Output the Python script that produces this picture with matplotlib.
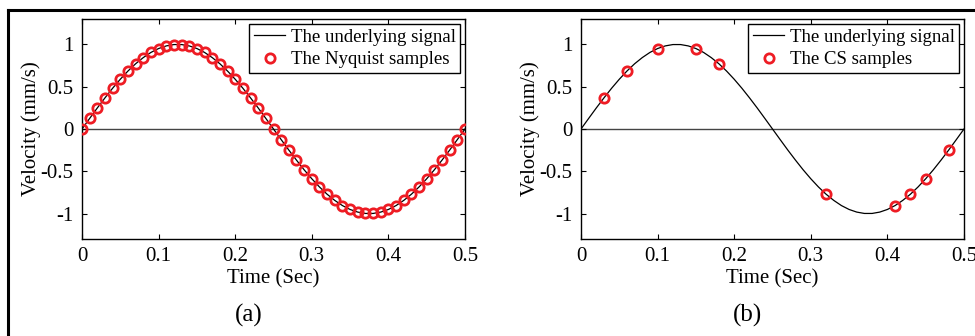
import matplotlib
matplotlib.use("Agg")
import matplotlib.pyplot as plt
from matplotlib.lines import Line2D

# ---- data ----
t_nyq = [0.00, 0.01, 0.02, 0.03, 0.04, 0.05, 0.06, 0.07, 0.08, 0.09,
         0.10, 0.11, 0.12, 0.13, 0.14, 0.15, 0.16, 0.17, 0.18, 0.19,
         0.20, 0.21, 0.22, 0.23, 0.24, 0.25, 0.26, 0.27, 0.28, 0.29,
         0.30, 0.31, 0.32, 0.33, 0.34, 0.35, 0.36, 0.37, 0.38, 0.39,
         0.40, 0.41, 0.42, 0.43, 0.44, 0.45, 0.46, 0.47, 0.48, 0.49, 0.50]
v_nyq = [0.000, 0.125, 0.249, 0.368, 0.482, 0.588, 0.685, 0.771, 0.844, 0.905,
         0.951, 0.982, 0.998, 0.998, 0.982, 0.951, 0.905, 0.844, 0.771, 0.685,
         0.588, 0.482, 0.368, 0.249, 0.125, 0.000, -0.125, -0.249, -0.368, -0.482,
         -0.588, -0.685, -0.771, -0.844, -0.905, -0.951, -0.982, -0.998, -0.998, -0.982,
         -0.951, -0.905, -0.844, -0.771, -0.685, -0.588, -0.482, -0.368, -0.249, -0.125, 0.000]

t_cs = [0.03, 0.06, 0.10, 0.15, 0.18, 0.32, 0.41, 0.43, 0.45, 0.48]
v_cs = [0.368, 0.685, 0.951, 0.951, 0.771, -0.771, -0.905, -0.771, -0.588, -0.249]

xticks = [0, 0.1, 0.2, 0.3, 0.4, 0.5]
xticklabels = ["0", "0.1", "0.2", "0.3", "0.4", "0.5"]
yticks = [-1, -0.5, 0, 0.5, 1]
yticklabels = ["-1", "-0.5", "0", "0.5", "1"]

plt.rcParams['font.family'] = ['Liberation Serif', 'DejaVu Serif']
plt.rcParams['axes.unicode_minus'] = False

fig = plt.figure(figsize=(9.75, 3.36), dpi=100)
fs = 15

panels = [
    (82 / 975, "The Nyquist samples", t_nyq, v_nyq, "(a)", 249 / 975),
    (581 / 975, "The CS samples", t_cs, v_cs, "(b)", 748 / 975),
]
for x0, sample_label, ts, vs, tag, tagx in panels:
    ax = fig.add_axes([x0, 1 - 239 / 336, 383 / 975, 220 / 336])
    ax.axhline(0, color='#444444', lw=1.0, zorder=1)
    ax.plot(t_nyq, v_nyq, color='black', lw=0.9, label="The underlying signal", zorder=2)
    ax.plot(ts, vs, linestyle='none', marker='o', markersize=6.7, markerfacecolor='none',
            markeredgecolor='#ee1c24', markeredgewidth=2.0, label=sample_label, zorder=3)
    ax.set_xlim(0, 0.5)
    ax.set_ylim(-1.3, 1.3)
    ax.set_xticks(xticks)
    ax.set_xticklabels(xticklabels)
    ax.set_yticks(yticks)
    ax.set_yticklabels(yticklabels)
    ax.tick_params(direction='in', length=3.5, width=0.8, top=True, right=True,
                   labelsize=fs, pad=6)
    for s in ax.spines.values():
        s.set_linewidth(1.0)
    ax.set_xlabel("Time (Sec)", fontsize=fs, labelpad=2)
    ax.set_ylabel("Velocity (mm/s)", fontsize=fs, labelpad=0)
    leg = ax.legend(loc='upper right', fontsize=13.5, frameon=True, fancybox=False,
                    edgecolor='black', framealpha=1, borderaxespad=0.25,
                    handlelength=1.65, handletextpad=0.3, borderpad=0.25,
                    labelspacing=0.3)
    leg.get_frame().set_linewidth(1.0)
    fig.text(tagx, 1 - 315 / 336, tag, fontsize=18, ha='center', va='center')

# figure frame lines (top and left)
fig.add_artist(Line2D([8 / 975, 1.0], [1 - 10 / 336, 1 - 10 / 336], color='black', lw=2.2,
                      transform=fig.transFigure))
fig.add_artist(Line2D([8 / 975, 8 / 975], [0.0, 1 - 10 / 336], color='black', lw=2.2,
                      transform=fig.transFigure))

fig.savefig("out.png", dpi=100)
